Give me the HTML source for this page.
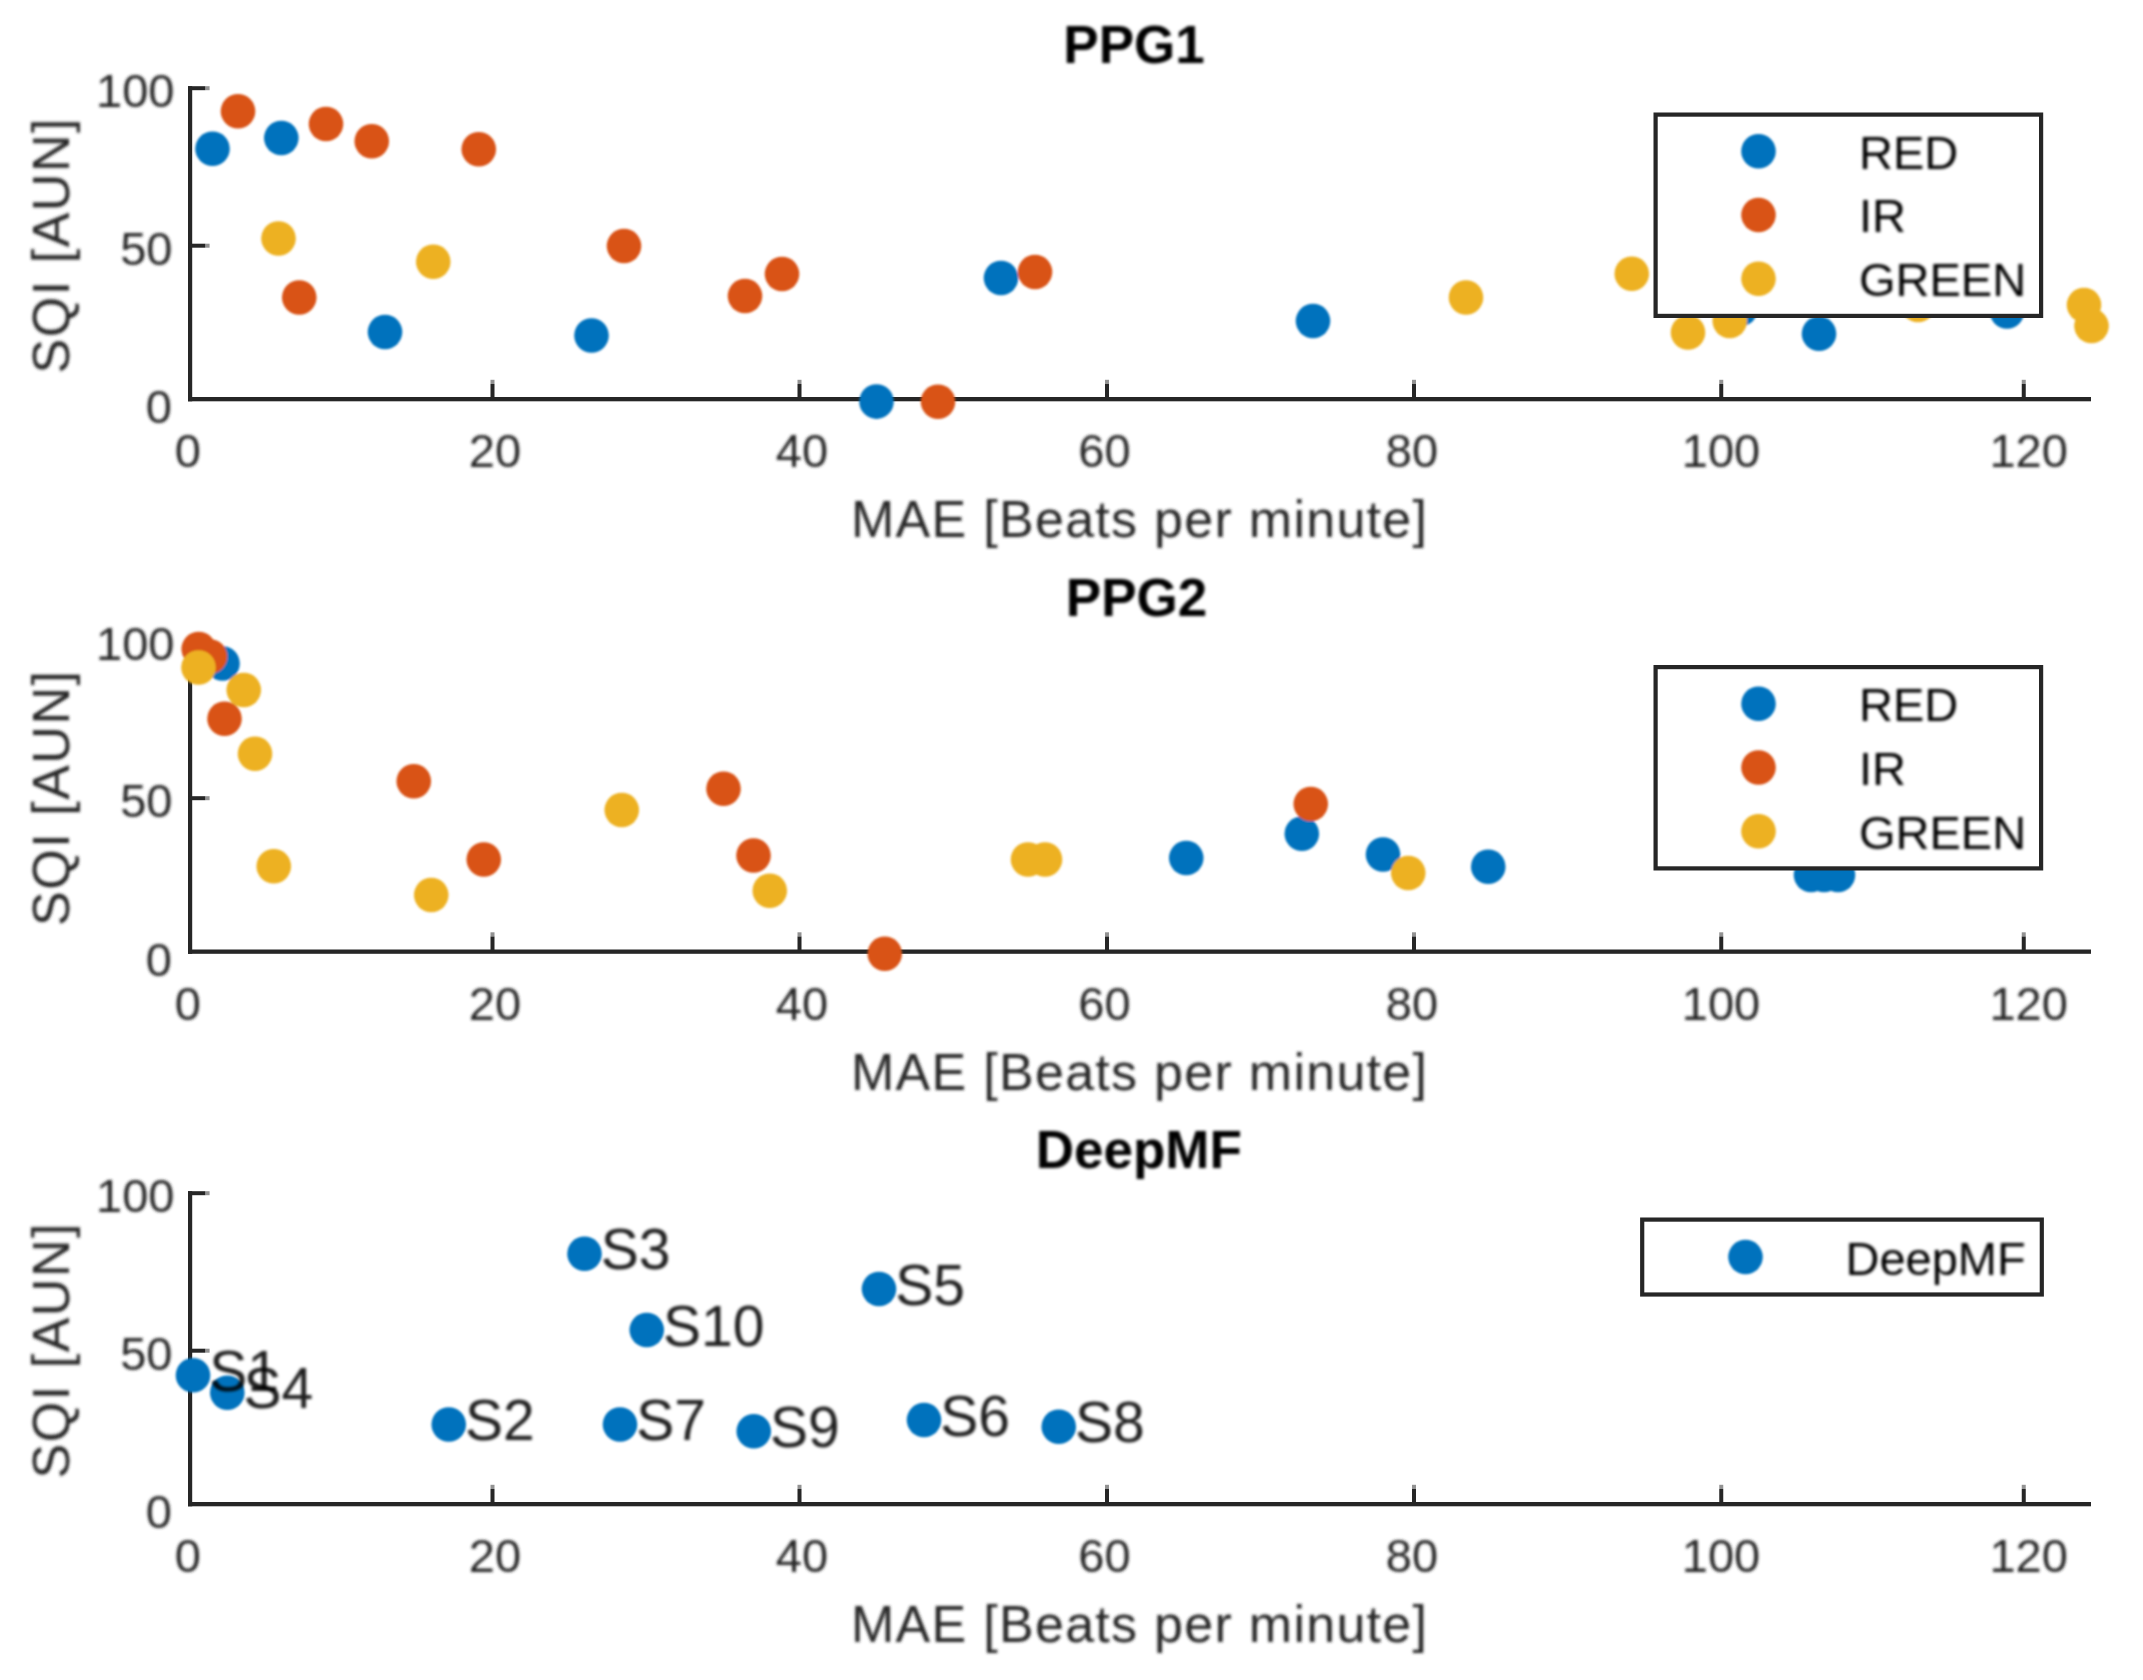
<!DOCTYPE html>
<html lang="en">
<head>
<meta charset="utf-8">
<title>SQI vs MAE</title>
<style>
html,body{margin:0;padding:0;background:#fff;}
body{width:2143px;height:1680px;overflow:hidden;}
svg{display:block;}
</style>
</head>
<body>
<svg width="2143" height="1680" viewBox="0 0 2143 1680">
<defs><filter id="soft" x="0" y="0" width="2143" height="1680" filterUnits="userSpaceOnUse"><feGaussianBlur stdDeviation="1.25"/></filter><filter id="softt" x="0" y="0" width="2143" height="1680" filterUnits="userSpaceOnUse"><feGaussianBlur stdDeviation="1.6"/></filter></defs>
<rect width="2143" height="1680" fill="#fff"/>
<!-- axes lines -->
<g fill="#262626">
<rect x="188" y="86.2" width="4.2" height="315.1"/>
<rect x="188" y="397" width="1903" height="4.3"/>
<rect x="188" y="86.2" width="17.3" height="4"/>
<rect x="205.3" y="86.2" width="4.3" height="4" fill-opacity="0.5"/>
<rect x="188" y="243.7" width="17.3" height="4"/>
<rect x="205.3" y="243.7" width="4.3" height="4" fill-opacity="0.5"/>
<rect x="490.5" y="384" width="4" height="13.5"/>
<rect x="490.5" y="379.8" width="4" height="4.2" fill-opacity="0.5"/>
<rect x="797.5" y="384" width="4" height="13.5"/>
<rect x="797.5" y="379.8" width="4" height="4.2" fill-opacity="0.5"/>
<rect x="1105" y="384" width="4" height="13.5"/>
<rect x="1105" y="379.8" width="4" height="4.2" fill-opacity="0.5"/>
<rect x="1412" y="384" width="4" height="13.5"/>
<rect x="1412" y="379.8" width="4" height="4.2" fill-opacity="0.5"/>
<rect x="1719.25" y="384" width="4" height="13.5"/>
<rect x="1719.25" y="379.8" width="4" height="4.2" fill-opacity="0.5"/>
<rect x="2021.75" y="384" width="4" height="13.5"/>
<rect x="2021.75" y="379.8" width="4" height="4.2" fill-opacity="0.5"/>
</g>
<g fill="#262626">
<rect x="188" y="638.7" width="4.2" height="315.1"/>
<rect x="188" y="949.5" width="1903" height="4.3"/>
<rect x="188" y="638.7" width="17.3" height="4"/>
<rect x="205.3" y="638.7" width="4.3" height="4" fill-opacity="0.5"/>
<rect x="188" y="796.2" width="17.3" height="4"/>
<rect x="205.3" y="796.2" width="4.3" height="4" fill-opacity="0.5"/>
<rect x="490.5" y="936.5" width="4" height="13.5"/>
<rect x="490.5" y="932.3" width="4" height="4.2" fill-opacity="0.5"/>
<rect x="797.5" y="936.5" width="4" height="13.5"/>
<rect x="797.5" y="932.3" width="4" height="4.2" fill-opacity="0.5"/>
<rect x="1105" y="936.5" width="4" height="13.5"/>
<rect x="1105" y="932.3" width="4" height="4.2" fill-opacity="0.5"/>
<rect x="1412" y="936.5" width="4" height="13.5"/>
<rect x="1412" y="932.3" width="4" height="4.2" fill-opacity="0.5"/>
<rect x="1719.25" y="936.5" width="4" height="13.5"/>
<rect x="1719.25" y="932.3" width="4" height="4.2" fill-opacity="0.5"/>
<rect x="2021.75" y="936.5" width="4" height="13.5"/>
<rect x="2021.75" y="932.3" width="4" height="4.2" fill-opacity="0.5"/>
</g>
<g fill="#262626">
<rect x="188" y="1191.2" width="4.2" height="315.1"/>
<rect x="188" y="1502" width="1903" height="4.3"/>
<rect x="188" y="1191.2" width="17.3" height="4"/>
<rect x="205.3" y="1191.2" width="4.3" height="4" fill-opacity="0.5"/>
<rect x="188" y="1348.7" width="17.3" height="4"/>
<rect x="205.3" y="1348.7" width="4.3" height="4" fill-opacity="0.5"/>
<rect x="490.5" y="1489" width="4" height="13.5"/>
<rect x="490.5" y="1484.8" width="4" height="4.2" fill-opacity="0.5"/>
<rect x="797.5" y="1489" width="4" height="13.5"/>
<rect x="797.5" y="1484.8" width="4" height="4.2" fill-opacity="0.5"/>
<rect x="1105" y="1489" width="4" height="13.5"/>
<rect x="1105" y="1484.8" width="4" height="4.2" fill-opacity="0.5"/>
<rect x="1412" y="1489" width="4" height="13.5"/>
<rect x="1412" y="1484.8" width="4" height="4.2" fill-opacity="0.5"/>
<rect x="1719.25" y="1489" width="4" height="13.5"/>
<rect x="1719.25" y="1484.8" width="4" height="4.2" fill-opacity="0.5"/>
<rect x="2021.75" y="1489" width="4" height="13.5"/>
<rect x="2021.75" y="1484.8" width="4" height="4.2" fill-opacity="0.5"/>
</g>
<!-- axis labels, tick labels, titles -->
<g filter="url(#softt)">
<g font-family="'Liberation Sans', sans-serif" font-size="47" fill="#262626" text-anchor="middle">
<text x="187.9" y="467">0</text>
<text x="495" y="467">20</text>
<text x="802" y="467">40</text>
<text x="1104.5" y="467">60</text>
<text x="1412" y="467">80</text>
<text x="1721" y="467">100</text>
<text x="2028.6" y="467">120</text>
</g>
<g font-family="'Liberation Sans', sans-serif" font-size="47" fill="#262626" text-anchor="end">
<text x="174.5" y="107">100</text>
<text x="172.5" y="264.5">50</text>
<text x="172" y="423">0</text>
</g>
<text font-family="'Liberation Sans', sans-serif" font-size="52" fill="#262626" x="851" y="537" textLength="576" lengthAdjust="spacing">MAE [Beats per minute]</text>
<text font-family="'Liberation Sans', sans-serif" font-size="52" fill="#262626" transform="translate(69 373.5) rotate(-90)" textLength="255" lengthAdjust="spacing">SQI [AUN]</text>
<text font-family="'Liberation Sans', sans-serif" font-size="53" font-weight="bold" fill="#000" text-anchor="middle" x="1134" y="63.3">PPG1</text>
<g font-family="'Liberation Sans', sans-serif" font-size="47" fill="#262626" text-anchor="middle">
<text x="187.9" y="1019.5">0</text>
<text x="495" y="1019.5">20</text>
<text x="802" y="1019.5">40</text>
<text x="1104.5" y="1019.5">60</text>
<text x="1412" y="1019.5">80</text>
<text x="1721" y="1019.5">100</text>
<text x="2028.6" y="1019.5">120</text>
</g>
<g font-family="'Liberation Sans', sans-serif" font-size="47" fill="#262626" text-anchor="end">
<text x="174.5" y="659.5">100</text>
<text x="172.5" y="817.0">50</text>
<text x="172" y="975.5">0</text>
</g>
<text font-family="'Liberation Sans', sans-serif" font-size="52" fill="#262626" x="851" y="1089.5" textLength="576" lengthAdjust="spacing">MAE [Beats per minute]</text>
<text font-family="'Liberation Sans', sans-serif" font-size="52" fill="#262626" transform="translate(69 926.0) rotate(-90)" textLength="255" lengthAdjust="spacing">SQI [AUN]</text>
<text font-family="'Liberation Sans', sans-serif" font-size="53" font-weight="bold" fill="#000" text-anchor="middle" x="1136.5" y="615.8">PPG2</text>
<g font-family="'Liberation Sans', sans-serif" font-size="47" fill="#262626" text-anchor="middle">
<text x="187.9" y="1572">0</text>
<text x="495" y="1572">20</text>
<text x="802" y="1572">40</text>
<text x="1104.5" y="1572">60</text>
<text x="1412" y="1572">80</text>
<text x="1721" y="1572">100</text>
<text x="2028.6" y="1572">120</text>
</g>
<g font-family="'Liberation Sans', sans-serif" font-size="47" fill="#262626" text-anchor="end">
<text x="174.5" y="1212">100</text>
<text x="172.5" y="1369.5">50</text>
<text x="172" y="1528">0</text>
</g>
<text font-family="'Liberation Sans', sans-serif" font-size="52" fill="#262626" x="851" y="1642" textLength="576" lengthAdjust="spacing">MAE [Beats per minute]</text>
<text font-family="'Liberation Sans', sans-serif" font-size="52" fill="#262626" transform="translate(69 1478.5) rotate(-90)" textLength="255" lengthAdjust="spacing">SQI [AUN]</text>
<text font-family="'Liberation Sans', sans-serif" font-size="53" font-weight="bold" fill="#000" text-anchor="middle" x="1138.75" y="1168.3">DeepMF</text>
</g>
<!-- data markers -->
<g filter="url(#soft)">
<g fill="#0072BD">
<circle cx="212.5" cy="148.75" r="17.3"/>
<circle cx="281.3" cy="138" r="17.3"/>
<circle cx="385" cy="332" r="17.3"/>
<circle cx="591.5" cy="335.5" r="17.3"/>
<circle cx="876.5" cy="401.6" r="17.3"/>
<circle cx="1001" cy="278" r="17.3"/>
<circle cx="1313" cy="321" r="17.3"/>
<circle cx="1740.5" cy="309" r="17.3"/>
<circle cx="1819" cy="333.75" r="17.3"/>
<circle cx="2007" cy="311.5" r="17.3"/>
</g>
<g fill="#D95319">
<circle cx="238" cy="111.25" r="17.3"/>
<circle cx="326" cy="124" r="17.3"/>
<circle cx="371.75" cy="141.25" r="17.3"/>
<circle cx="478.75" cy="149.25" r="17.3"/>
<circle cx="299.25" cy="297.5" r="17.3"/>
<circle cx="624" cy="246" r="17.3"/>
<circle cx="745" cy="296" r="17.3"/>
<circle cx="782" cy="274" r="17.3"/>
<circle cx="1035" cy="272" r="17.3"/>
<circle cx="938" cy="401.7" r="17.3"/>
</g>
<g fill="#EDB120">
<circle cx="278.5" cy="238.5" r="17.3"/>
<circle cx="433.25" cy="261.75" r="17.3"/>
<circle cx="1466" cy="297.5" r="17.3"/>
<circle cx="1631.75" cy="273.75" r="17.3"/>
<circle cx="1688" cy="332.5" r="17.3"/>
<circle cx="1729.75" cy="321" r="17.3"/>
<circle cx="1918" cy="305" r="17.3"/>
<circle cx="2084" cy="305" r="17.3"/>
<circle cx="2091.5" cy="326" r="17.3"/>
</g>
<g fill="#0072BD">
<circle cx="222.5" cy="663.5" r="17.3"/>
<circle cx="1186.25" cy="858" r="17.3"/>
<circle cx="1301.8" cy="833.75" r="17.3"/>
<circle cx="1383" cy="854.5" r="17.3"/>
<circle cx="1488.25" cy="866.75" r="17.3"/>
<circle cx="1811" cy="875" r="17.3"/>
<circle cx="1824" cy="875" r="17.3"/>
<circle cx="1838" cy="875" r="17.3"/>
</g>
<g fill="#D95319">
<circle cx="198.7" cy="649" r="17.3"/>
<circle cx="210" cy="656.5" r="17.3"/>
<circle cx="224.5" cy="718.75" r="17.3"/>
<circle cx="413.75" cy="781.25" r="17.3"/>
<circle cx="483.75" cy="859.5" r="17.3"/>
<circle cx="723.5" cy="788.75" r="17.3"/>
<circle cx="753.5" cy="855.5" r="17.3"/>
<circle cx="884.75" cy="953.75" r="17.3"/>
<circle cx="1310.75" cy="804" r="17.3"/>
</g>
<g fill="#EDB120">
<circle cx="198.5" cy="667.5" r="17.3"/>
<circle cx="243.75" cy="690" r="17.3"/>
<circle cx="255" cy="753.75" r="17.3"/>
<circle cx="273.75" cy="866.25" r="17.3"/>
<circle cx="431.25" cy="895" r="17.3"/>
<circle cx="621.75" cy="810" r="17.3"/>
<circle cx="769.75" cy="890.75" r="17.3"/>
<circle cx="1028" cy="859.5" r="17.3"/>
<circle cx="1045" cy="859.5" r="17.3"/>
<circle cx="1408.25" cy="873" r="17.3"/>
</g>
<g fill="#0072BD">
<circle cx="193" cy="1375.3" r="17.3"/>
<circle cx="448.75" cy="1424.5" r="17.3"/>
<circle cx="584.5" cy="1253.75" r="17.3"/>
<circle cx="227.3" cy="1392.7" r="17.3"/>
<circle cx="879" cy="1289" r="17.3"/>
<circle cx="924" cy="1420" r="17.3"/>
<circle cx="620" cy="1424.5" r="17.3"/>
<circle cx="1058.75" cy="1426.75" r="17.3"/>
<circle cx="753.75" cy="1431.25" r="17.3"/>
<circle cx="646.75" cy="1330" r="17.3"/>
</g>
</g>
<!-- point labels -->
<g filter="url(#softt)" font-family="'Liberation Sans', sans-serif" font-size="57" fill="#000" fill-opacity="0.88">
<text x="209.2" y="1391.0">S1</text>
<text x="464.95" y="1440.2">S2</text>
<text x="600.7" y="1269.45">S3</text>
<text x="243.5" y="1408.4">S4</text>
<text x="895.2" y="1304.7">S5</text>
<text x="940.2" y="1435.7">S6</text>
<text x="636.2" y="1440.2">S7</text>
<text x="1074.95" y="1442.45">S8</text>
<text x="769.95" y="1446.95">S9</text>
<text x="662.95" y="1345.7">S10</text>
</g>
<!-- legend boxes -->
<rect x="1655.6" y="114.6" width="385.5" height="201.3" fill="#fff" stroke="#262626" stroke-width="4.2"/>
<rect x="1655.6" y="667.1" width="385.5" height="201.3" fill="#fff" stroke="#262626" stroke-width="4.2"/>
<rect x="1642.2" y="1219.6" width="399.6" height="74.9" fill="#fff" stroke="#262626" stroke-width="4.2"/>
<!-- legend entries -->
<g filter="url(#soft)">
<circle cx="1758.5" cy="151.25" r="17.3" fill="#0072BD"/>
<circle cx="1758.5" cy="215.0" r="17.3" fill="#D95319"/>
<circle cx="1758.5" cy="278.75" r="17.3" fill="#EDB120"/>
<circle cx="1758.5" cy="703.75" r="17.3" fill="#0072BD"/>
<circle cx="1758.5" cy="767.5" r="17.3" fill="#D95319"/>
<circle cx="1758.5" cy="831.25" r="17.3" fill="#EDB120"/>
<circle cx="1745.5" cy="1257" r="17.3" fill="#0072BD"/>
</g>
<g filter="url(#softt)" font-family="'Liberation Sans', sans-serif" font-size="47" fill="#000">
<text x="1859" y="168.55">RED</text>
<text x="1859" y="232.3">IR</text>
<text x="1859" y="296.05">GREEN</text>
<text x="1859" y="721.05">RED</text>
<text x="1859" y="784.8">IR</text>
<text x="1859" y="848.55">GREEN</text>
<text x="1845.5" y="1274.5">DeepMF</text>
</g>
</svg>
</body>
</html>
